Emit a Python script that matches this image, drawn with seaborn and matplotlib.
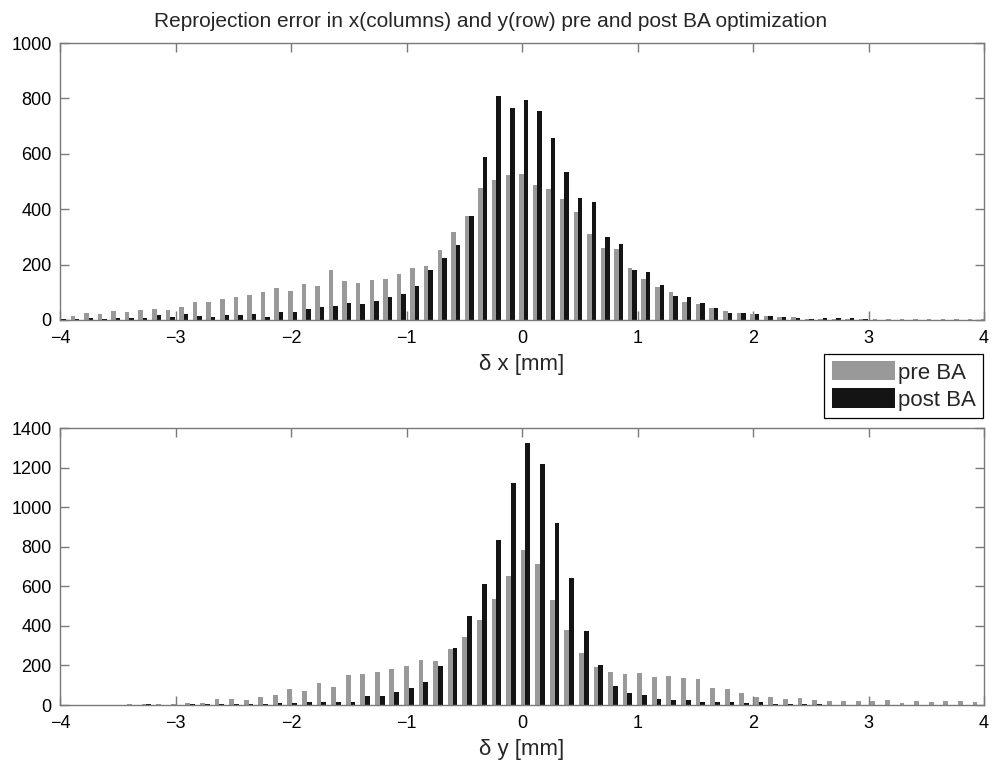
import numpy as np
import pandas as pd
import matplotlib
matplotlib.use("Agg")
import matplotlib.pyplot as plt
import seaborn as sns
from matplotlib.patches import Patch

# ---------------- data ----------------
series_names = ["pre BA", "post BA"]

# bin centres (x categories) of the two histograms
x_centers = np.round(0.014 + 0.1177 * np.arange(-34, 35), 4)   # 69 bins
y_centers = np.round(0.030 + 0.1262 * np.arange(-32, 32), 4)   # 64 bins

pre_x = [16, 16, 24, 23, 33, 28, 36, 40, 37, 47,
         64, 66, 77, 82, 90, 100, 117, 105, 129, 123,
         180, 142, 135, 146, 149, 167, 187, 195, 254, 316,
         377, 475, 506, 522, 528, 487, 473, 436, 390, 312,
         259, 255, 189, 149, 120, 102, 66, 57, 43, 33,
         24, 20, 14, 11, 11, 4, 4, 4, 5, 4,
         3, 2, 3, 2, 2, 2, 2, 2, 2]
post_x = [2, 4, 7, 5, 7, 8, 7, 18, 12, 20,
          16, 11, 18, 17, 22, 12, 28, 28, 41, 47,
          49, 63, 57, 67, 82, 95, 122, 181, 223, 269,
          376, 588, 807, 764, 793, 755, 657, 536, 441, 425,
          299, 276, 181, 175, 125, 88, 83, 63, 43, 24,
          24, 22, 14, 11, 7, 5, 7, 6, 7, 2,
          1, 1, 1, 1, 1, 1, 1, 1, 1]

pre_y = [1, 1, 1, 1, 2, 3, 5, 7, 3, 12,
         10, 30, 29, 27, 40, 49, 79, 71, 113, 92,
         150, 156, 168, 183, 197, 230, 222, 284, 343, 429,
         538, 654, 782, 714, 533, 378, 264, 190, 168, 156,
         161, 140, 146, 138, 134, 87, 82, 59, 40, 39,
         32, 34, 25, 20, 20, 20, 20, 25, 12, 20,
         13, 20, 20, 13]
post_y = [1, 1, 1, 1, 1, 1, 5, 2, 2, 3,
          3, 3, 3, 3, 5, 8, 8, 13, 13, 13,
          17, 44, 44, 66, 87, 118, 197, 286, 450, 614,
          835, 1123, 1326, 1219, 921, 642, 373, 202, 97, 61,
          52, 32, 25, 25, 17, 15, 15, 12, 13, 7,
          7, 3, 3, 1, 1, 1, 1, 1, 1, 1,
          1, 1, 1, 1]

x_ticks = [-4, -3, -2, -1, 0, 1, 2, 3, 4]
top_yticks = [0, 200, 400, 600, 800, 1000]
bot_yticks = [0, 200, 400, 600, 800, 1000, 1200, 1400]

title = "Reprojection error in x(columns) and y(row) pre and post BA optimization"
xlabel_top = "δ x [mm]"
xlabel_bot = "δ y [mm]"

# ---------------- style ----------------
sns.set_theme(style="white")
plt.rcParams["font.family"] = ["Liberation Sans", "DejaVu Sans"]
plt.rcParams["axes.unicode_minus"] = True

GRAY = "#999999"
BLACK = "#141414"
FRAME = "#7a7a7a"
palette = {series_names[0]: GRAY, series_names[1]: BLACK}

def make_df(centers, pre, post):
    return pd.DataFrame({
        "center": np.concatenate([centers, centers]),
        "count": np.concatenate([pre, post]),
        "series": [series_names[0]] * len(centers) + [series_names[1]] * len(centers),
    })

fig = plt.figure(figsize=(10, 7.67), dpi=100)
ax1 = fig.add_axes([0.060, 0.5828, 0.924, 0.3611])
ax2 = fig.add_axes([0.060, 0.0808, 0.924, 0.3608])

for ax, centers, pre, post, yt, ylim, xl in [
    (ax1, x_centers, pre_x, post_x, top_yticks, 1000, xlabel_top),
    (ax2, y_centers, pre_y, post_y, bot_yticks, 1400, xlabel_bot),
]:
    df = make_df(centers, pre, post)
    sns.barplot(data=df, x="center", y="count", hue="series",
                hue_order=series_names, palette=palette, native_scale=True,
                width=0.66, errorbar=None, linewidth=0, legend=False, ax=ax)
    ax.set_xlim(-4, 4)
    ax.set_ylim(0, ylim)
    ax.set_xticks(x_ticks)
    ax.set_xticklabels([("\u2212" + str(abs(t))) if t < 0 else str(t) for t in x_ticks])
    ax.set_yticks(yt)
    ax.set_yticklabels([str(t) for t in yt])
    ax.set_xlabel(xl, fontsize=16, labelpad=5)
    ax.set_ylabel("")
    for s in ax.spines.values():
        s.set_visible(True)
        s.set_color(FRAME)
        s.set_linewidth(1.0)
    ax.tick_params(axis="both", direction="in", length=6.5, width=1.0, color=FRAME,
                   labelsize=13, labelcolor="black", top=True, right=True,
                   bottom=True, left=True)
    ax.tick_params(axis="x", pad=7.5)
    ax.tick_params(axis="y", pad=6)
    ax.grid(False)
    ax.set_facecolor("white")

ax1.set_title(title, fontsize=15, pad=11.5, x=0.466)

handles = [Patch(facecolor=GRAY, edgecolor="none", label=series_names[0]),
           Patch(facecolor=BLACK, edgecolor="none", label=series_names[1])]
leg = fig.legend(handles=handles, loc="upper right", bbox_to_anchor=(0.983, 0.5385),
                 fontsize=16, frameon=True, fancybox=False, framealpha=1,
                 edgecolor="black", handlelength=2.85, handleheight=0.95,
                 borderpad=0.33, labelspacing=0.22, handletextpad=0.12,
                 borderaxespad=0)
leg.get_frame().set_linewidth(0.9)

fig.savefig("out.png", dpi=100, facecolor="white")
